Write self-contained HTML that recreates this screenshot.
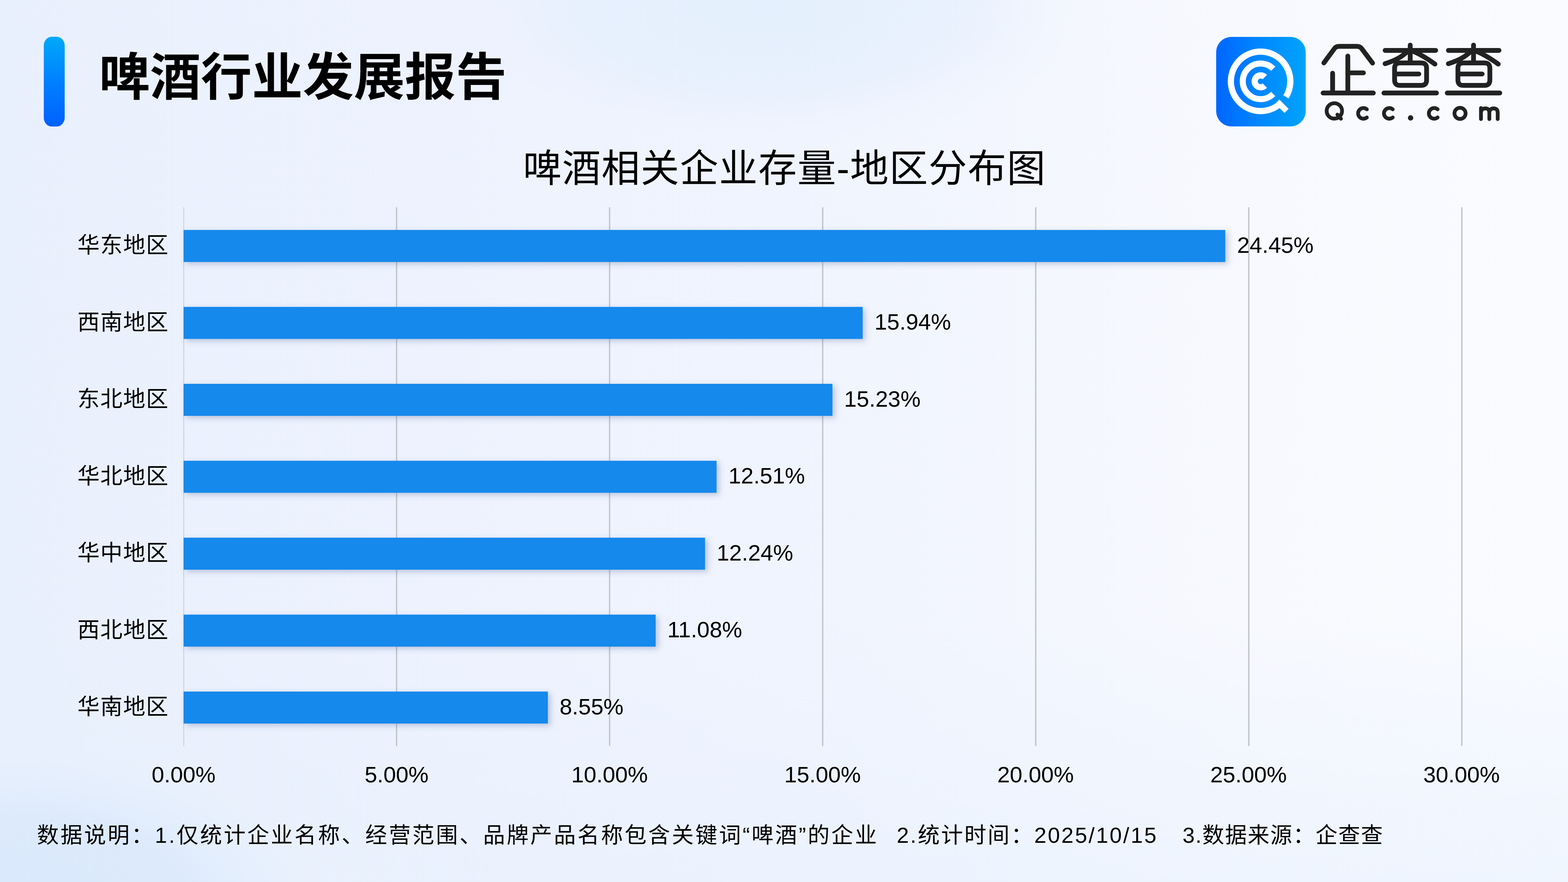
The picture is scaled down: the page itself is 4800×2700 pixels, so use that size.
<!DOCTYPE html>
<html lang="zh"><head><meta charset="utf-8"><title>啤酒行业发展报告</title>
<style>html,body{margin:0;padding:0;background:#eef2fd;font-family:"Liberation Sans",sans-serif}body{width:100vw;height:56.25vw;overflow:hidden;position:relative}svg{display:block;width:100vw;height:56.25vw}.sr{position:absolute;left:0;top:0;width:1px;height:1px;overflow:hidden;clip:rect(0 0 0 0);clip-path:inset(50%);white-space:nowrap;opacity:0}svg text{font-family:"Liberation Sans","Noto Sans CJK SC",sans-serif}</style>
</head><body>
<svg viewBox="0 0 4800 2700" preserveAspectRatio="xMidYMid meet" role="img" aria-label="啤酒相关企业存量-地区分布图"><title>啤酒行业发展报告</title><desc>啤酒行业发展报告 企查查 Qcc.com 啤酒相关企业存量-地区分布图 华东地区 24.45% 西南地区 15.94% 东北地区 15.23% 华北地区 12.51% 华中地区 12.24% 西北地区 11.08% 华南地区 8.55% 0.00% 5.00% 10.00% 15.00% 20.00% 25.00% 30.00% 数据说明：1.仅统计企业名称、经营范围、品牌产品名称包含关键词“啤酒”的企业 2.统计时间：2025/10/15 3.数据来源：企查查</desc>
<defs>
<linearGradient id="bg" x1="0" y1="0" x2="1" y2="0">
<stop offset="0" stop-color="#e9f0fd"/><stop offset="0.5" stop-color="#f0f4fe"/><stop offset="0.8" stop-color="#f7f9fe"/><stop offset="1" stop-color="#f9fbff"/>
</linearGradient>
<linearGradient id="bgb" x1="0" y1="0" x2="0" y2="1">
<stop offset="0" stop-color="#e6f0fe" stop-opacity="0"/><stop offset="1" stop-color="#e8f1fe" stop-opacity="0.55"/>
</linearGradient>
<radialGradient id="blobBL" cx="0.5" cy="0.5" r="0.5"><stop offset="0" stop-color="#dae9fc" stop-opacity="1"/><stop offset="0.55" stop-color="#dbe9fc" stop-opacity="0.9"/><stop offset="0.82" stop-color="#e0ecfc" stop-opacity="0.35"/><stop offset="1" stop-color="#e6eefc" stop-opacity="0"/></radialGradient>
<radialGradient id="blobTC" cx="0.5" cy="0.5" r="0.5"><stop offset="0" stop-color="#e2effd" stop-opacity="0.85"/><stop offset="0.6" stop-color="#e4effd" stop-opacity="0.65"/><stop offset="1" stop-color="#eef3fd" stop-opacity="0"/></radialGradient>
<linearGradient id="bar" x1="0" y1="0" x2="0" y2="1"><stop offset="0" stop-color="#00a9f9"/><stop offset="0.5" stop-color="#0080ff"/><stop offset="1" stop-color="#0061ff"/></linearGradient>
<linearGradient id="logo" x1="0" y1="0" x2="1" y2="0"><stop offset="0" stop-color="#0066ff"/><stop offset="0.5" stop-color="#0088ff"/><stop offset="1" stop-color="#00a4fb"/></linearGradient>
<filter id="sh" x="-5%" y="-60%" width="110%" height="240%"><feGaussianBlur stdDeviation="9"/></filter>
</defs>

<rect width="4800" height="2700" fill="url(#bg)"/>
<rect y="1900" width="4800" height="800" fill="url(#bgb)"/>
<ellipse cx="60" cy="2780" rx="920" ry="500" fill="url(#blobBL)"/>
<ellipse cx="2350" cy="20" rx="1000" ry="430" fill="url(#blobTC)"/>
<rect x="134" y="112.6" width="64" height="274.6" rx="24" ry="27" fill="url(#bar)"/>
<text x="303" y="291" font-size="156" font-weight="bold" fill="#000">啤酒行业发展报告</text>
<rect x="3723" y="113" width="274" height="274" rx="47" fill="url(#logo)"/>
<path d="M3915.0 320.7A91.0 91.0 0 1 1 3936.6 296.5" fill="none" stroke="#fff" stroke-width="19.0" stroke-linecap="butt"/>
<path d="M3897.5 287.5A54.5 54.5 0 1 1 3897.5 210.5" fill="none" stroke="#fff" stroke-width="18.5" stroke-linecap="butt"/>
<path d="M3871.9 261.9A18.2 18.2 0 1 1 3871.9 236.1" fill="none" stroke="#fff" stroke-width="19.0" stroke-linecap="butt"/>
<path d="M3910.0 311.0L3938.5 339.5" stroke="#fff" stroke-width="18" fill="none"/>
<path d="M4052.6 192.7L4085.5 148.0Q4089.9 141.9 4100.4 141.9L4153.2 141.9Q4163.2 141.9 4168.4 148.7L4201.7 193.2M4126.0 171.7L4126.0 284.7M4126.0 223.0L4173.7 223.0M4079.4 224.1L4079.4 284.7M4050.3 284.7L4204.0 284.7M4240.1 154.3L4395.0 154.3M4317.0 138.0L4317.0 192.7M4308.8 156.6Q4287.9 179.9 4240.1 195.0M4325.1 156.6Q4357.7 170.6 4392.7 196.2M4285.5 192.7L4350.7 192.7Q4367.1 192.7 4367.1 209.0L4367.1 245.1Q4367.1 261.4 4350.7 261.4L4285.5 261.4Q4269.2 261.4 4269.2 245.1L4269.2 209.0Q4269.2 192.7 4285.5 192.7ZM4269.2 226.5L4343.3 226.5M4236.6 284.7L4397.3 284.7M4433.9 154.3L4588.8 154.3M4510.8 138.0L4510.8 192.7M4502.6 156.6Q4481.6 179.9 4433.9 195.0M4518.9 156.6Q4551.5 170.6 4586.5 196.2M4479.3 192.7L4544.5 192.7Q4560.8 192.7 4560.8 209.0L4560.8 245.1Q4560.8 261.4 4544.5 261.4L4479.3 261.4Q4463.0 261.4 4463.0 245.1L4463.0 209.0Q4463.0 192.7 4479.3 192.7ZM4463.0 226.5L4537.1 226.5M4430.4 284.7L4591.1 284.7" fill="none" stroke="#222" stroke-width="14.7" stroke-linecap="round" stroke-linejoin="round"/>
<path d="M4108.3 339.6A23.5 23.5 0 0 1 4061.2 339.7M4061.2 339.6A23.5 23.5 0 0 1 4108.3 339.6M4094.1 351.0L4105.0 363.4M4184.2 359.6A16.3 16.3 0 1 1 4184.2 334.6M4263.4 359.6A16.3 16.3 0 1 1 4263.4 334.6M4400.8 359.6A16.3 16.3 0 1 1 4400.8 334.6M4486.5 347.1A17.0 17.0 0 0 1 4452.5 347.1M4452.5 347.1A17.0 17.0 0 0 1 4486.5 347.0M4533.6 330.8L4533.6 364.5M4533.6 344.7Q4534.8 331.9 4546.9 331.9Q4559.2 331.9 4559.2 344.7L4559.2 364.5M4559.2 344.7Q4560.4 331.9 4572.0 331.9Q4584.8 331.9 4584.8 344.7L4584.8 364.5" fill="none" stroke="#222" stroke-width="11.6" stroke-linecap="round" stroke-linejoin="round"/>
<circle cx="4318.1" cy="361.0" r="8.2" fill="#222"/>
<text x="1601" y="557" font-size="118" letter-spacing="2" fill="#000">啤酒相关企业存量-地区分布图</text>
<rect x="561" y="634.5" width="3" height="1649.0" fill="#d0d3dc"/>
<rect x="1212.0" y="634.5" width="4" height="1649.0" fill="#c1c3ca"/>
<rect x="1864.2" y="634.5" width="4" height="1649.0" fill="#c1c3ca"/>
<rect x="2516.4" y="634.5" width="4" height="1649.0" fill="#c1c3ca"/>
<rect x="3168.6" y="634.5" width="4" height="1649.0" fill="#c1c3ca"/>
<rect x="3820.8" y="634.5" width="4" height="1649.0" fill="#c1c3ca"/>
<rect x="4473.0" y="634.5" width="4" height="1649.0" fill="#c1c3ca"/>
<rect x="570.0" y="710.0" width="3188.8" height="98" fill="#3f548f" fill-opacity="0.31" filter="url(#sh)"/>
<rect x="570.0" y="945.5" width="2078.9" height="98" fill="#3f548f" fill-opacity="0.31" filter="url(#sh)"/>
<rect x="570.0" y="1181.0" width="1986.3" height="98" fill="#3f548f" fill-opacity="0.31" filter="url(#sh)"/>
<rect x="570.0" y="1416.5" width="1631.6" height="98" fill="#3f548f" fill-opacity="0.31" filter="url(#sh)"/>
<rect x="570.0" y="1652.0" width="1596.3" height="98" fill="#3f548f" fill-opacity="0.31" filter="url(#sh)"/>
<rect x="570.0" y="1887.5" width="1445.1" height="98" fill="#3f548f" fill-opacity="0.31" filter="url(#sh)"/>
<rect x="570.0" y="2123.0" width="1115.1" height="98" fill="#3f548f" fill-opacity="0.31" filter="url(#sh)"/>
<rect x="562.0" y="704.0" width="3188.8" height="98" fill="#1589ec"/>
<rect x="562.0" y="939.5" width="2078.9" height="98" fill="#1589ec"/>
<rect x="562.0" y="1175.0" width="1986.3" height="98" fill="#1589ec"/>
<rect x="562.0" y="1410.5" width="1631.6" height="98" fill="#1589ec"/>
<rect x="562.0" y="1646.0" width="1596.3" height="98" fill="#1589ec"/>
<rect x="562.0" y="1881.5" width="1445.1" height="98" fill="#1589ec"/>
<rect x="562.0" y="2117.0" width="1115.1" height="98" fill="#1589ec"/>
<g font-size="68" letter-spacing="2" fill="#000">
<text x="237" y="774">华东地区</text>
<text x="237" y="1009.5">西南地区</text>
<text x="237" y="1245">东北地区</text>
<text x="237" y="1480.5">华北地区</text>
<text x="237" y="1716">华中地区</text>
<text x="237" y="1951.5">西北地区</text>
<text x="237" y="2187">华南地区</text>
</g>
<g font-size="69" fill="#000">
<text x="3787" y="773.5">24.45%</text>
<text x="2677" y="1009">15.94%</text>
<text x="2584" y="1244.5">15.23%</text>
<text x="2230" y="1480">12.51%</text>
<text x="2194" y="1715.5">12.24%</text>
<text x="2043" y="1951">11.08%</text>
<text x="1713" y="2186.5">8.55%</text>
</g>
<g font-size="69" fill="#000" text-anchor="middle">
<text x="562" y="2395.2">0.00%</text>
<text x="1214" y="2395.2">5.00%</text>
<text x="1866" y="2395.2">10.00%</text>
<text x="2518" y="2395.2">15.00%</text>
<text x="3170" y="2395.2">20.00%</text>
<text x="3822" y="2395.2">25.00%</text>
<text x="4474" y="2395.2">30.00%</text>
</g>
<g font-size="67" fill="#000">
<text x="113" y="2580" textLength="2571" lengthAdjust="spacing">数据说明：1.仅统计企业名称、经营范围、品牌产品名称包含关键词“啤酒”的企业</text>
<text x="2745" y="2580" textLength="795" lengthAdjust="spacing">2.统计时间：2025/10/15</text>
<text x="3620" y="2580" textLength="613" lengthAdjust="spacing">3.数据来源：企查查</text>
</g>
</svg>
<div class="sr"><h1>啤酒行业发展报告</h1><p>企查查 Qcc.com</p><h2>啤酒相关企业存量-地区分布图</h2><table><tr><th>华东地区</th><td>24.45%</td></tr><tr><th>西南地区</th><td>15.94%</td></tr><tr><th>东北地区</th><td>15.23%</td></tr><tr><th>华北地区</th><td>12.51%</td></tr><tr><th>华中地区</th><td>12.24%</td></tr><tr><th>西北地区</th><td>11.08%</td></tr><tr><th>华南地区</th><td>8.55%</td></tr></table><p>0.00% 5.00% 10.00% 15.00% 20.00% 25.00% 30.00%</p><p>数据说明：1.仅统计企业名称、经营范围、品牌产品名称包含关键词“啤酒”的企业  2.统计时间：2025/10/15   3.数据来源：企查查</p></div>
</body></html>
